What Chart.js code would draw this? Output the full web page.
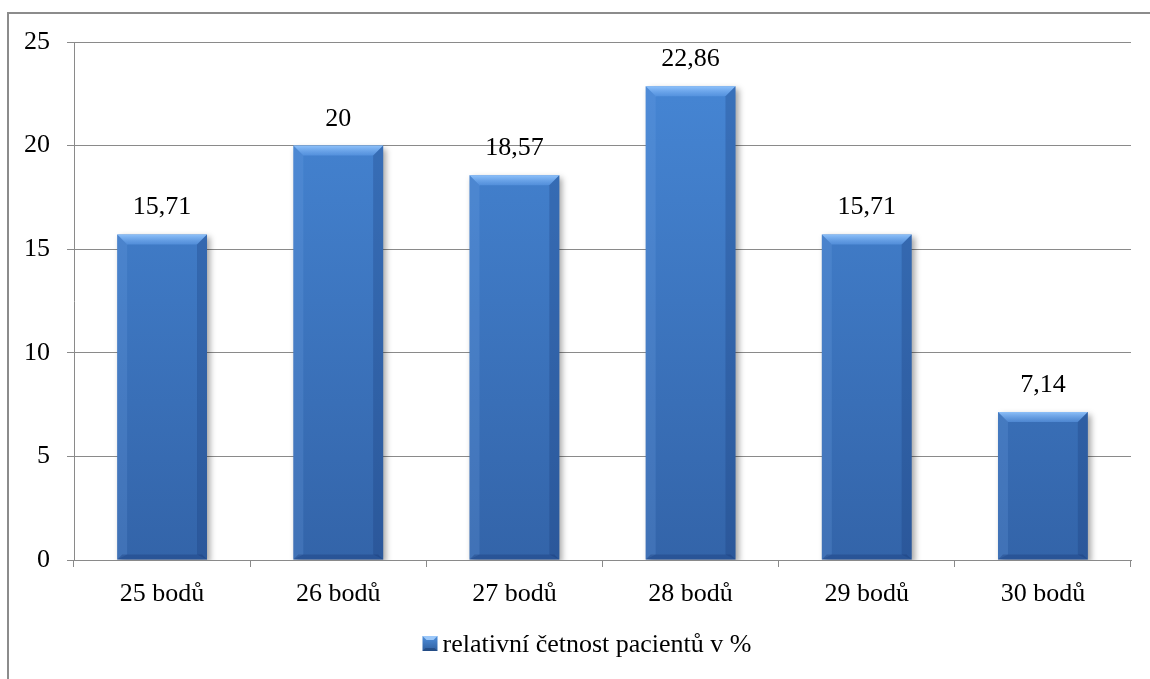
<!DOCTYPE html>
<html>
<head>
<meta charset="utf-8">
<title>Relativní četnost pacientů</title>
<script src="https://cdn.jsdelivr.net/npm/chart.js@4"></script>
<style>
  html, body { margin: 0; padding: 0; background: #fff; }
  #wrap { position: relative; width: 1150px; height: 679px; }
  canvas { display: block; }
</style>
</head>
<body>
<div id="wrap"><canvas id="c" width="1150" height="679"></canvas></div>
<script>
// Data
const categories = ['25 bodů', '26 bodů', '27 bodů', '28 bodů', '29 bodů', '30 bodů'];
const values = [15.71, 20, 18.57, 22.86, 15.71, 7.14];
const valueLabels = ['15,71', '20', '18,57', '22,86', '15,71', '7,14'];
const seriesName = 'relativní četnost pacientů v %';
const yTicks = [0, 5, 10, 15, 20, 25];

const FONT = "'Liberation Serif', 'Times New Roman', serif";
const FONT_SIZE = 26;
const GRID = '#8a8a8a';

// Frame of the whole chart (it runs past the right and bottom edges)
const FRAME = { x: 8, y: 13, w: 1158, h: 700 };

// Vertical gradient fill for the bars
function barFill(ctx) {
  const chart = ctx.chart;
  if (!chart.chartArea) return '#3d78c6';
  const y = chart.scales.y;
  const g = chart.ctx.createLinearGradient(0, y.getPixelForValue(25), 0, y.getPixelForValue(0));
  g.addColorStop(0, '#4788d7');
  g.addColorStop(1, '#3364a9');
  return g;
}

// Bevelled square used as the legend marker
function drawLegendIcon(c, x, y, s) {
  const g = c.createLinearGradient(0, y, 0, y + s);
  g.addColorStop(0, '#4f8fdc'); g.addColorStop(1, '#2f5f9f');
  c.fillStyle = g; c.fillRect(x, y, s, s);
  c.fillStyle = 'rgba(170,210,255,0.85)';
  c.beginPath(); c.moveTo(x, y); c.lineTo(x + s, y); c.lineTo(x + s - 4, y + 4); c.lineTo(x + 4, y + 4); c.closePath(); c.fill();
  c.fillStyle = 'rgba(20,50,100,0.45)';
  c.beginPath(); c.moveTo(x, y + s); c.lineTo(x + s, y + s); c.lineTo(x + s - 3, y + s - 3); c.lineTo(x + 3, y + s - 3); c.closePath(); c.fill();
}

const framePlugin = {
  id: 'frame',
  beforeDraw(chart) {
    const c = chart.ctx;
    c.save();
    c.strokeStyle = '#8c8c8c';
    c.lineWidth = 2;
    c.strokeRect(FRAME.x, FRAME.y, FRAME.w, FRAME.h);
    c.restore();
  }
};

// Soft shadow under bars, then bevel edges on top of them
const bevelPlugin = {
  id: 'bevel',
  beforeDatasetDraw(chart) {
    const c = chart.ctx;
    c.save();
    c.shadowColor = 'rgba(0,0,0,0.35)';
    c.shadowBlur = 6;
    c.shadowOffsetX = 3;
    c.shadowOffsetY = 3;
  },
  afterDatasetDraw(chart) {
    const c = chart.ctx;
    c.restore();
    const meta = chart.getDatasetMeta(0);
    const b = 10;
    meta.data.forEach(el => {
      const p = el.getProps(['x', 'y', 'base', 'width'], true);
      const l = p.x - p.width / 2, r = p.x + p.width / 2, t = p.y, bt = p.base;
      c.save();
      let g = c.createLinearGradient(0, t, 0, t + b);
      g.addColorStop(0, 'rgba(150,200,255,0.9)');
      g.addColorStop(1, 'rgba(100,160,235,0.5)');
      c.fillStyle = g;
      c.beginPath(); c.moveTo(l, t); c.lineTo(r, t); c.lineTo(r - b, t + b); c.lineTo(l + b, t + b); c.closePath(); c.fill();
      c.fillStyle = 'rgba(120,170,235,0.2)';
      c.beginPath(); c.moveTo(l, t); c.lineTo(l + b, t + b); c.lineTo(l + b, bt - 5); c.lineTo(l, bt); c.closePath(); c.fill();
      c.fillStyle = 'rgba(20,50,110,0.25)';
      c.beginPath(); c.moveTo(r, t); c.lineTo(r - b, t + b); c.lineTo(r - b, bt - 5); c.lineTo(r, bt); c.closePath(); c.fill();
      c.fillStyle = 'rgba(20,50,110,0.3)';
      c.beginPath(); c.moveTo(l, bt); c.lineTo(r, bt); c.lineTo(r - 5, bt - 5); c.lineTo(l + 5, bt - 5); c.closePath(); c.fill();
      c.restore();
    });
  }
};

// Value labels above the bars
const valueLabelPlugin = {
  id: 'valueLabels',
  afterDatasetsDraw(chart) {
    const c = chart.ctx;
    const meta = chart.getDatasetMeta(0);
    c.save();
    c.font = `${FONT_SIZE}px ${FONT}`;
    c.fillStyle = '#000';
    c.textAlign = 'center';
    c.textBaseline = 'alphabetic';
    meta.data.forEach((el, i) => {
      c.fillText(valueLabels[i], el.x, el.y - 20);
    });
    c.restore();
  }
};

// Legend below the axis, centred in the frame
const legendPlugin = {
  id: 'bottomLegend',
  afterDraw(chart) {
    const c = chart.ctx;
    c.save();
    c.font = `${FONT_SIZE}px ${FONT}`;
    const tw = c.measureText(seriesName).width;
    const icon = 15, gap = 5;
    const total = icon + gap + tw;
    const cx = FRAME.x + FRAME.w / 2;
    const x0 = cx - total / 2;
    const baseY = chart.chartArea.bottom + 92;
    drawLegendIcon(c, x0, baseY - 16, icon);
    c.fillStyle = '#000';
    c.textAlign = 'left';
    c.textBaseline = 'alphabetic';
    c.fillText(seriesName, x0 + icon + gap, baseY);
    c.restore();
  }
};

new Chart(document.getElementById('c'), {
  type: 'bar',
  data: {
    labels: categories,
    datasets: [{
      label: seriesName,
      data: values,
      backgroundColor: barFill,
      borderWidth: 0,
      categoryPercentage: 1.0,
      barPercentage: 0.51
    }]
  },
  plugins: [framePlugin, bevelPlugin, valueLabelPlugin, legendPlugin],
  options: {
    responsive: false,
    animation: false,
    layout: { padding: { top: 42, right: 19, bottom: 55, left: 0 } },
    plugins: {
      tooltip: { enabled: false },
      legend: { display: false }
    },
    scales: {
      x: {
        grid: { drawOnChartArea: false, drawTicks: true, tickLength: 7, color: GRID, offset: true },
        border: { color: GRID, width: 1 },
        ticks: { font: { family: FONT, size: FONT_SIZE }, color: '#000', padding: 12 },
        afterFit(s) { s.height = 64; }
      },
      y: {
        min: 0, max: 25,
        afterBuildTicks(s) { s.ticks = yTicks.map(v => ({ value: v })); },
        grid: { color: GRID, tickLength: 7 },
        border: { color: GRID, width: 1 },
        ticks: { font: { family: FONT, size: FONT_SIZE }, color: '#000', padding: 17 },
        afterFit(s) { s.width = 74; }
      }
    }
  }
});
</script>
</body>
</html>
